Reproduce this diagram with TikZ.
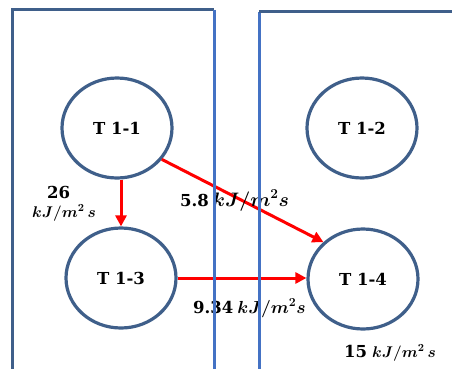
\RequirePackage{fix-cm}
\documentclass[tikz,border=0pt]{standalone}
\usepackage{amsmath}
\usepackage{fontspec}
\setmainfont{DejaVu Serif}
\usetikzlibrary{shapes.geometric,arrows.meta}
\definecolor{boxdark}{HTML}{3F5F8A}
\definecolor{boxlight}{HTML}{4472C4}
\definecolor{arrred}{HTML}{FF0000}
\newcommand{\flowval}[1]{{\fontsize{16.5}{20}\selectfont #1}}
\newcommand{\flowunit}[2]{{\fontsize{#1}{#1}\selectfont $#2$}}
\begin{document}
\begin{tikzpicture}[x=1pt,y=-1pt,
  tank/.style={ellipse,draw=boxdark,line width=3.2pt,minimum width=110pt,minimum height=100pt,inner sep=0pt,font=\fontsize{16.5}{20}\selectfont\bfseries},
  flow/.style={draw=arrred,line width=3pt,-{Triangle[length=11pt,width=11pt]}},
  lbl/.style={inner sep=0pt,anchor=base west,font=\bfseries\boldmath},
  wall/.style={line width=3pt}]
\useasboundingbox (0,0) rectangle (452,369);
\node[tank] (T11) at (117,128) {T 1-1};
\node[tank] (T12) at (362,128) {T 1-2};
\node[tank] (T13) at (121,278) {T 1-3};
\node[tank] (T14) at (363,279) {T 1-4};
\draw[flow] (T11.south -| T13.north) -- (T13.north);
\draw[flow] (T11.-35) -- (T14.137);
\draw[flow] (T13.east) -- (T13.east -| T14.west);
\node[lbl,anchor=base] (l26) at (58.5,198) {\flowval{26}};
\node[lbl] (l26u) at (32,217) {\flowunit{15.5}{kJ/m^2\,s}};
\node[lbl] (l58) at (180,206) {\flowval{5.8}\hspace{4pt}\flowunit{19.5}{kJ/m^2s}};
\node[lbl] (l934) at (193,313) {\flowval{9.34}\hspace{4pt}\flowunit{17.5}{kJ/m^2s}};
\node[lbl] (l15) at (344,357) {\flowval{15}\hspace{5pt}\flowunit{15.5}{kJ/m^2\,s}};
\coordinate (a1) at (12,369);
\coordinate (a2) at (12,10);
\coordinate (a3) at (214,10);
\coordinate (a4) at (214,369);
\coordinate (b1) at (259,369);
\coordinate (b2) at (259,12);
\coordinate (b3) at (452,12);
\draw[wall,draw=boxdark] (a1) -- (a2) -- (a3);
\draw[wall,draw=boxlight] (a3) -- (a4);
\draw[wall,draw=boxlight] (b1) -- (b2);
\draw[wall,draw=boxdark] (b2) -- (b3);
\end{tikzpicture}
\end{document}
